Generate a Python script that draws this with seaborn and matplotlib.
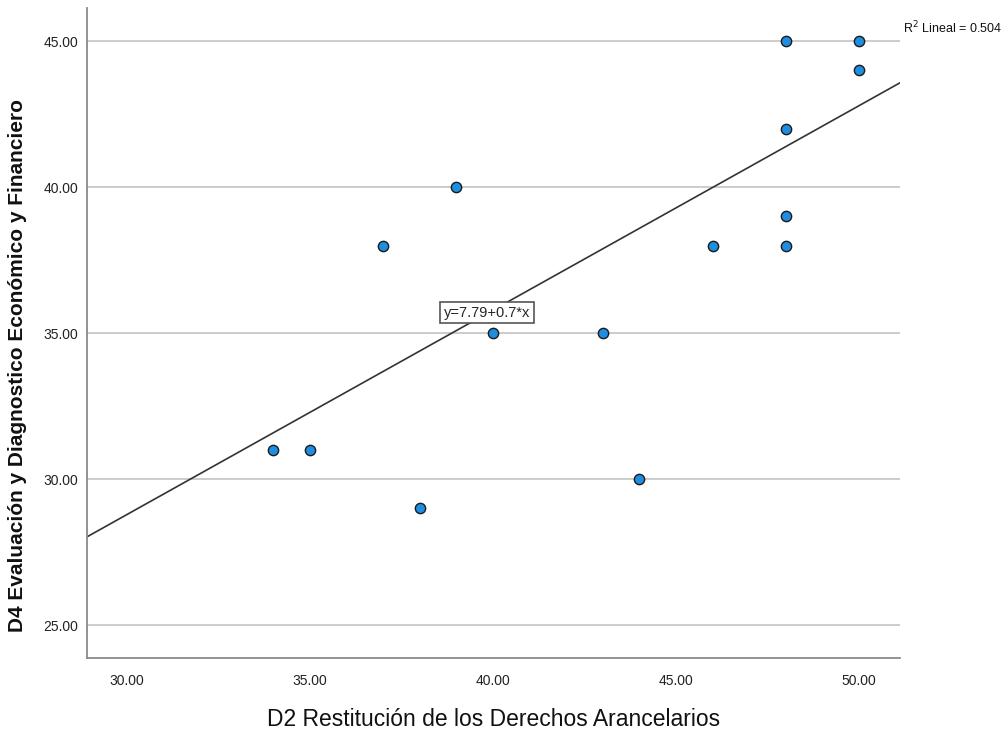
import numpy as np
import pandas as pd
import seaborn as sns
import matplotlib.pyplot as plt

# Data
d2_restitucion = [34, 35, 37, 38, 39, 40, 43, 44, 46, 48, 48, 48, 48, 50, 50]
d4_evaluacion = [31, 31, 38, 29, 40, 35, 35, 30, 38, 45, 42, 39, 38, 45, 44]
fit_intercept = 7.79
fit_slope = 0.7
r2_lineal = 0.504
x_ticks = [30, 35, 40, 45, 50]
y_ticks = [25, 30, 35, 40, 45]

df = pd.DataFrame({'x': d2_restitucion, 'y': d4_evaluacion})

sns.set_style('white')
plt.rcParams['font.family'] = ['Liberation Sans', 'DejaVu Sans']

fig = plt.figure(figsize=(10.08, 7.33), dpi=100)
ax = fig.add_axes([0.086, 0.102, 0.807, 0.887])

xlim = (28.9, 51.12)
ylim = (23.87, 46.13)

# horizontal grid lines
for yt in y_ticks:
    ax.axhline(yt, color='#c8c8c8', lw=1.3, zorder=1)

# fit line
xs = np.array(xlim)
ax.plot(xs, fit_intercept + fit_slope * xs, color='#333333', lw=1.2, zorder=2)

# points
sns.scatterplot(data=df, x='x', y='y', ax=ax, s=55, color='#1e8ee0',
                edgecolor='#1a1a1a', linewidth=1.0, zorder=3, legend=False)

ax.set_xlim(xlim)
ax.set_ylim(ylim)
ax.set_xticks(x_ticks)
ax.set_yticks(y_ticks)
ax.set_xticklabels([f'{v:.2f}' for v in x_ticks], fontsize=10)
ax.set_yticklabels([f'{v:.2f}' for v in y_ticks], fontsize=10)
ax.tick_params(axis='x', length=0, pad=11, colors='#222222')
ax.tick_params(axis='y', length=0, pad=6, colors='#222222')

for s in ['top', 'right']:
    ax.spines[s].set_visible(False)
for s in ['left', 'bottom']:
    ax.spines[s].set_color('#8a8a8a')
    ax.spines[s].set_linewidth(1.3)

ax.set_xlabel('D2 Restitución de los Derechos Arancelarios', fontsize=16.5,
              color='#111111')
ax.xaxis.set_label_coords(0.5, -0.077)
ax.set_ylabel('D4 Evaluación y Diagnostico Económico y Financiero', fontsize=15,
              fontweight='bold', color='#111111')
ax.yaxis.set_label_coords(-0.073, 0.451)

# equation label
ax.text(39.84, 35.7, f'y={fit_intercept}+{fit_slope}*x', fontsize=10.5,
        ha='center', va='center', zorder=4,
        bbox=dict(boxstyle='square,pad=0.25', fc='white', ec='#555555', lw=1.2))

# R2 label
fig.text(0.896, 0.962, f'R$^2$ Lineal = {r2_lineal}', fontsize=9, ha='left',
         va='center', color='#111111')

fig.savefig('out.png', dpi=100)
